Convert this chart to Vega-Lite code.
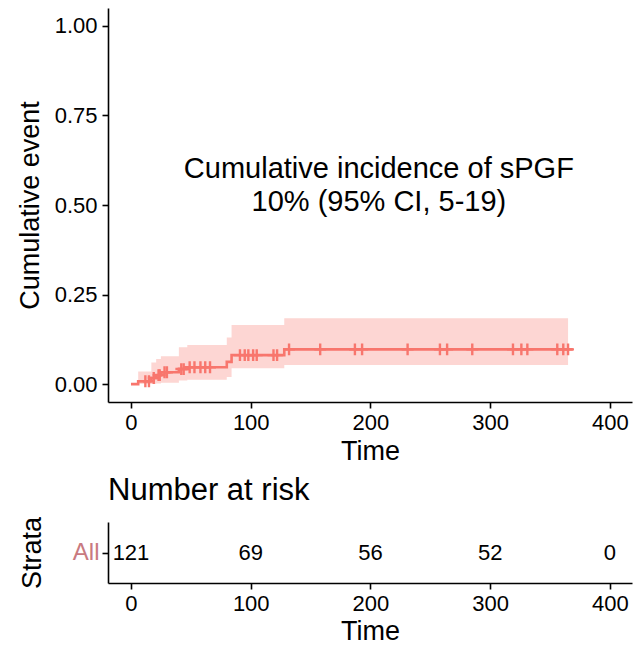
{
  "$schema": "https://vega.github.io/schema/vega-lite/v6.json",
  "padding": {"left": 16, "top": 8, "right": 8, "bottom": 0},
  "background": "white",
  "spacing": 11,
  "config": {
    "font": "Liberation Sans",
    "view": {"stroke": null},
    "axis": {
      "domainColor": "black", "tickColor": "black", "labelColor": "black", "titleColor": "black",
      "grid": false, "domainWidth": 1.6, "tickWidth": 1.6, "tickSize": 6,
      "labelFontSize": 22, "titleFontSize": 27, "titleFontWeight": "normal", "labelPadding": 4,
      "labelFont": "Liberation Sans", "titleFont": "Liberation Sans"
    }
  },
  "datasets": {
    "km": [
      {"time": 0, "est": 0, "lower": 0, "upper": 0},
      {"time": 6, "est": 0.008, "lower": 0, "upper": 0.035},
      {"time": 17, "est": 0.017, "lower": 0, "upper": 0.06},
      {"time": 21, "est": 0.025, "lower": 0.002, "upper": 0.07},
      {"time": 25, "est": 0.033, "lower": 0.004, "upper": 0.078},
      {"time": 40, "est": 0.042, "lower": 0.01, "upper": 0.103},
      {"time": 47, "est": 0.047, "lower": 0.012, "upper": 0.109},
      {"time": 80, "est": 0.062, "lower": 0.02, "upper": 0.13},
      {"time": 84, "est": 0.081, "lower": 0.044, "upper": 0.165},
      {"time": 128, "est": 0.097, "lower": 0.053, "upper": 0.184},
      {"time": 365, "est": 0.097, "lower": 0.053, "upper": 0.184}
    ],
    "line": [
      {"time": 0, "est": 0},
      {"time": 6, "est": 0.008},
      {"time": 17, "est": 0.017},
      {"time": 21, "est": 0.025},
      {"time": 25, "est": 0.033},
      {"time": 40, "est": 0.042},
      {"time": 47, "est": 0.047},
      {"time": 80, "est": 0.062},
      {"time": 84, "est": 0.081},
      {"time": 128, "est": 0.097},
      {"time": 369, "est": 0.097}
    ],
    "censor": [
      {"time": 12, "est": 0.008}, {"time": 15, "est": 0.008}, {"time": 19, "est": 0.017},
      {"time": 23, "est": 0.025}, {"time": 24, "est": 0.025}, {"time": 28, "est": 0.033},
      {"time": 30, "est": 0.033}, {"time": 42, "est": 0.042}, {"time": 44, "est": 0.042},
      {"time": 49, "est": 0.047}, {"time": 53, "est": 0.047}, {"time": 58, "est": 0.047},
      {"time": 62, "est": 0.047}, {"time": 66, "est": 0.047}, {"time": 91, "est": 0.081},
      {"time": 95, "est": 0.081}, {"time": 98, "est": 0.081}, {"time": 102, "est": 0.081},
      {"time": 105, "est": 0.081}, {"time": 119, "est": 0.081}, {"time": 122, "est": 0.081},
      {"time": 132, "est": 0.097}, {"time": 158, "est": 0.097}, {"time": 187, "est": 0.097},
      {"time": 193, "est": 0.097}, {"time": 231, "est": 0.097}, {"time": 258, "est": 0.097},
      {"time": 264, "est": 0.097}, {"time": 285, "est": 0.097}, {"time": 319, "est": 0.097},
      {"time": 326, "est": 0.097}, {"time": 331, "est": 0.097}, {"time": 356, "est": 0.097},
      {"time": 361, "est": 0.097}, {"time": 365, "est": 0.097}
    ],
    "note": [
      {"label": "Cumulative incidence of sPGF"}
    ],
    "risk": [
      {"time": 0, "strata": "All", "n": 121},
      {"time": 100, "strata": "All", "n": 69},
      {"time": 200, "strata": "All", "n": 56},
      {"time": 300, "strata": "All", "n": 52},
      {"time": 400, "strata": "All", "n": 0}
    ]
  },
  "vconcat": [
    {
      "width": 524,
      "height": 394,
      "layer": [
        {
          "data": {"name": "km"},
          "mark": {"type": "area", "interpolate": "step-after", "color": "#F8766D", "opacity": 0.3},
          "encoding": {
            "x": {"field": "time", "type": "quantitative", "scale": {"domain": [-19.2, 418.4], "nice": false, "zero": false},
                  "axis": {"values": [0, 100, 200, 300, 400], "title": "Time", "titlePadding": 5}},
            "y": {"field": "lower", "type": "quantitative", "scale": {"domain": [-0.05, 1.05], "nice": false, "zero": false},
                  "axis": {"values": [0, 0.25, 0.5, 0.75, 1], "format": ".2f", "title": "Cumulative event", "titlePadding": 10, "labelPadding": 5}},
            "y2": {"field": "upper"}
          }
        },
        {
          "data": {"name": "line"},
          "mark": {"type": "line", "interpolate": "step-after", "color": "#F8766D", "strokeWidth": 2.6},
          "encoding": {
            "x": {"field": "time", "type": "quantitative"},
            "y": {"field": "est", "type": "quantitative"}
          }
        },
        {
          "data": {"name": "censor"},
          "mark": {"type": "point", "shape": "M-1,0H1M0,-1V1", "filled": false, "color": "#F8766D", "strokeWidth": 2.4, "size": 140, "opacity": 1},
          "encoding": {
            "x": {"field": "time", "type": "quantitative"},
            "y": {"field": "est", "type": "quantitative"}
          }
        },
        {
          "data": {"name": "note"},
          "mark": {"type": "text", "text": ["Cumulative incidence of sPGF", "10% (95% CI, 5-19)"], "fontSize": 29, "lineHeight": 33, "align": "center", "baseline": "middle", "color": "black", "font": "Liberation Sans"},
          "encoding": {
            "x": {"datum": 207, "type": "quantitative"},
            "y": {"datum": 0.6, "type": "quantitative"}
          }
        }
      ]
    },
    {
      "width": 524,
      "height": 61,
      "title": {"text": "Number at risk", "anchor": "start", "fontSize": 31, "fontWeight": "normal", "font": "Liberation Sans", "color": "black", "offset": 9, "frame": "group"},
      "data": {"name": "risk"},
      "mark": {"type": "text", "fontSize": 22, "color": "black", "font": "Liberation Sans", "baseline": "middle"},
      "encoding": {
        "x": {"field": "time", "type": "quantitative", "scale": {"domain": [-19.2, 418.4], "nice": false, "zero": false},
              "axis": {"values": [0, 100, 200, 300, 400], "title": "Time", "titlePadding": 4}},
        "y": {"field": "strata", "type": "nominal",
              "axis": {"title": "Strata", "titlePadding": 26, "labelColor": "#C97A80", "labelFontSize": 24, "labelPadding": 3}},
        "text": {"field": "n", "type": "quantitative"}
      }
    }
  ]
}
